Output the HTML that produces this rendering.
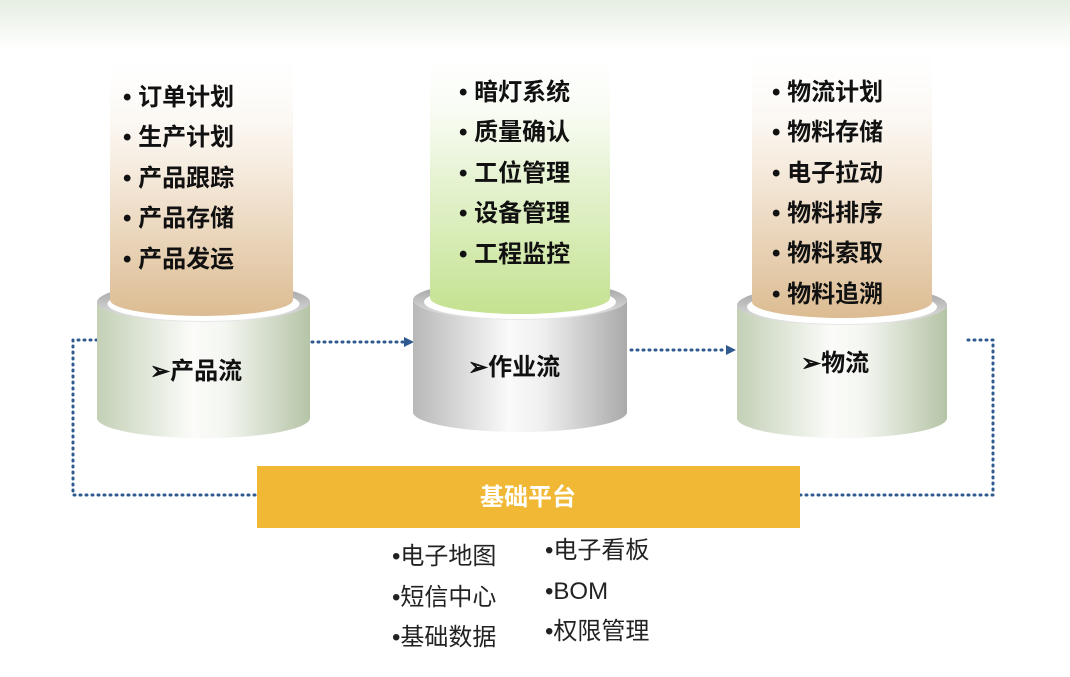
<!DOCTYPE html>
<html><head><meta charset="utf-8"><style>
html,body{margin:0;padding:0;background:#fff}
svg{display:block}
.t{font-family:"Liberation Sans","Noto Sans CJK SC",sans-serif;fill:#111}
</style></head><body>
<svg width="1070" height="677" viewBox="0 0 1070 677" xmlns="http://www.w3.org/2000/svg">
<defs>
<linearGradient id="top" x1="0" y1="0" x2="0" y2="1"><stop offset="0" stop-color="#e6eee2"/><stop offset="1" stop-color="#fff"/></linearGradient>
<linearGradient id="tan" x1="0" y1="0" x2="0" y2="1"><stop offset="0" stop-color="#fff" stop-opacity="0"/><stop offset="0.45" stop-color="#f6ecdf"/><stop offset="1" stop-color="#dcbc92"/></linearGradient>
<linearGradient id="grn" x1="0" y1="0" x2="0" y2="1"><stop offset="0" stop-color="#fff" stop-opacity="0"/><stop offset="0.45" stop-color="#eaf5da"/><stop offset="1" stop-color="#c4e290"/></linearGradient>
<linearGradient id="bodyG" x1="0" y1="0" x2="1" y2="0"><stop offset="0" stop-color="#c3d0b6"/><stop offset="0.45" stop-color="#fbfcf9"/><stop offset="0.6" stop-color="#f4f6f1"/><stop offset="1" stop-color="#b5c4a6"/></linearGradient>
<linearGradient id="bodyY" x1="0" y1="0" x2="1" y2="0"><stop offset="0" stop-color="#b8b8b8"/><stop offset="0.45" stop-color="#fafafa"/><stop offset="0.6" stop-color="#f0f0f0"/><stop offset="1" stop-color="#aaa"/></linearGradient>
<linearGradient id="rim" x1="0" y1="0" x2="0" y2="1"><stop offset="0" stop-color="#9a9a9a"/><stop offset="1" stop-color="#e8e8e8"/></linearGradient>
</defs>
<rect x="0" y="0" width="1070" height="50" fill="url(#top)"/>

<g stroke="#2f5a8f" stroke-width="3" stroke-dasharray="1 5" stroke-linecap="round" fill="none">
<polyline points="97,340 73,340 73,495 257,495"/>
<polyline points="800,495 993,495 993,340 965,340"/>
<line x1="312" y1="342" x2="404" y2="342"/>
<line x1="631" y1="350" x2="726" y2="350"/>
</g>
<polygon points="404,337 414,342 404,347" fill="#2f5a8f"/>
<polygon points="726,345 736,350 726,355" fill="#2f5a8f"/>

<path d="M97,302 L97,418 A106,20 0 0 0 310,418 L310,302 Z" fill="url(#bodyG)"/>
<ellipse cx="203.5" cy="302" rx="106.5" ry="20" fill="url(#rim)"/>
<ellipse cx="203.5" cy="304" rx="96" ry="17" fill="#fff"/>
<path d="M110,45 L293,45 L293,300 A91.5,16 0 0 1 110,300 Z" fill="url(#tan)"/>
<path d="M413,300 L413,412 A107,20 0 0 0 627,412 L627,300 Z" fill="url(#bodyY)"/>
<ellipse cx="520" cy="300" rx="107" ry="20" fill="url(#rim)"/>
<ellipse cx="520" cy="302" rx="96" ry="17" fill="#fff"/>
<path d="M430,40 L610,40 L610,298 A90,16 0 0 1 430,298 Z" fill="url(#grn)"/>
<path d="M737,305 L737,418 A105,20 0 0 0 947,418 L947,305 Z" fill="url(#bodyG)"/>
<ellipse cx="842" cy="305" rx="105" ry="20" fill="url(#rim)"/>
<ellipse cx="842" cy="307" rx="95" ry="17" fill="#fff"/>
<path d="M752,38 L932,38 L932,302 A90,16 0 0 1 752,302 Z" fill="url(#tan)"/>

<g class="t" font-size="24" font-weight="bold">
<text x="123" y="105">• 订单计划</text>
<text x="123" y="145">• 生产计划</text>
<text x="123" y="186">• 产品跟踪</text>
<text x="123" y="226">• 产品存储</text>
<text x="123" y="267">• 产品发运</text>
<text x="459" y="100">• 暗灯系统</text>
<text x="459" y="140">• 质量确认</text>
<text x="459" y="181">• 工位管理</text>
<text x="459" y="221">• 设备管理</text>
<text x="459" y="262">• 工程监控</text>
<text x="772" y="100">• 物流计划</text>
<text x="772" y="140">• 物料存储</text>
<text x="772" y="181">• 电子拉动</text>
<text x="772" y="221">• 物料排序</text>
<text x="772" y="261">• 物料索取</text>
<text x="772" y="302">• 物料追溯</text>
<text x="150" y="379">➢产品流</text>
<text x="468" y="375">➢作业流</text>
<text x="801" y="371">➢物流</text>
</g>

<rect x="257" y="466" width="543" height="62" fill="#f0b834"/>
<text class="t" x="528" y="505" font-size="24" font-weight="bold" text-anchor="middle" style="fill:#fff">基础平台</text>

<g class="t" font-size="24" style="fill:#222">
<text x="392" y="564">•电子地图</text>
<text x="392" y="605">•短信中心</text>
<text x="392" y="645">•基础数据</text>
<text x="545" y="558">•电子看板</text>
<text x="545" y="599">•BOM</text>
<text x="545" y="639">•权限管理</text>
</g>
</svg>
</body></html>
